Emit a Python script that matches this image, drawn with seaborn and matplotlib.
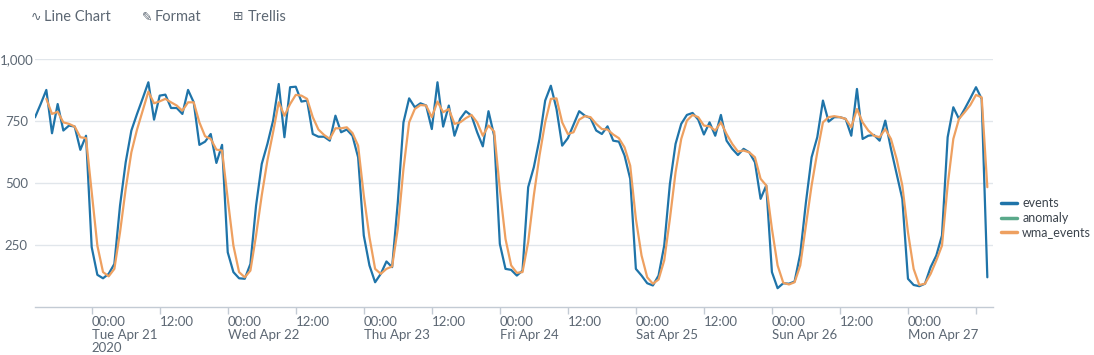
import numpy as np
import pandas as pd
import seaborn as sns
import matplotlib.pyplot as plt
from matplotlib.lines import Line2D

# hourly counts, Mon Apr 20 14:00 -> Mon Apr 27 14:00
events = [764, 818, 875, 700, 818, 711, 731, 727, 633, 690,
          240, 128, 114, 132, 172, 408, 583, 711, 778, 841,
          906, 755, 852, 856, 802, 802, 778, 875, 825, 653,
          666, 697, 580, 653, 219, 139, 114, 112, 172, 408,
          576, 657, 751, 899, 684, 886, 888, 828, 832, 697,
          686, 686, 670, 771, 704, 715, 690, 603, 287, 166,
          98, 132, 182, 159, 421, 744, 841, 805, 821, 812,
          717, 906, 727, 812, 690, 758, 789, 771, 704, 647,
          789, 690, 253, 152, 148, 125, 145, 482, 563, 677,
          832, 892, 798, 650, 680, 735, 789, 771, 761, 711,
          697, 728, 670, 666, 610, 516, 152, 125, 94, 85,
          125, 246, 495, 657, 738, 774, 782, 755, 695, 744,
          690, 774, 670, 637, 612, 637, 623, 583, 435, 489,
          139, 74, 94, 92, 101, 213, 421, 603, 684, 832,
          747, 765, 765, 758, 690, 879, 677, 690, 693, 670,
          751, 637, 536, 435, 112, 87, 82, 92, 159, 206,
          287, 684, 805, 758, 798, 841, 886, 839, 118]

wma_events = [None, None, 839, 778, 787, 744, 738, 727, 684, 680,
              462, 246, 139, 122, 152, 300, 475, 623, 715, 791,
              868, 821, 829, 839, 825, 812, 791, 825, 825, 744,
              688, 677, 634, 630, 435, 246, 139, 118, 145, 287,
              449, 590, 704, 825, 771, 818, 855, 852, 839, 765,
              715, 693, 677, 720, 720, 724, 701, 650, 449, 280,
              152, 132, 152, 162, 314, 556, 744, 798, 814, 812,
              765, 828, 785, 798, 738, 744, 761, 774, 744, 690,
              731, 707, 475, 273, 166, 136, 139, 260, 449, 610,
              744, 839, 841, 744, 697, 704, 755, 769, 765, 738,
              717, 715, 695, 680, 643, 569, 354, 206, 118, 92,
              109, 186, 354, 542, 677, 751, 774, 765, 731, 728,
              711, 744, 697, 657, 626, 630, 623, 603, 516, 489,
              314, 166, 96, 89, 98, 166, 327, 489, 623, 744,
              765, 769, 765, 758, 724, 798, 744, 711, 690, 684,
              717, 677, 596, 489, 300, 152, 87, 92, 132, 186,
              246, 489, 677, 758, 785, 814, 855, 845, 482]

anomaly = []  # no anomalies in this range

series_names = ['events', 'anomaly', 'wma_events']
colors = {'events': '#1f74a9', 'anomaly': '#5aa98a', 'wma_events': '#eea060'}

y_ticks = [250, 500, 750, 1000]
y_labels = ['250', '500', '750', '1,000']

tick_labels = ['00:00\nTue Apr 21\n2020', '12:00', '00:00\nWed Apr 22', '12:00',
               '00:00\nThu Apr 23', '12:00', '00:00\nFri Apr 24', '12:00',
               '00:00\nSat Apr 25', '12:00', '00:00\nSun Apr 26', '12:00',
               '00:00\nMon Apr 27', '']

times = pd.date_range('2020-04-20 14:00', periods=len(events), freq='h')
df = pd.DataFrame({'_time': times, 'events': events,
                   'wma_events': pd.array(wma_events, dtype='Float64')})
long = df.melt(id_vars='_time', var_name='series', value_name='count').dropna()
long['count'] = long['count'].astype(float)

sns.set_theme(style='white')
plt.rcParams['font.family'] = ['Lato', 'DejaVu Sans']

grey = '#5c6773'
fig = plt.figure(figsize=(10.94, 3.55), dpi=100)
ax = fig.add_axes([35 / 1094, 48.5 / 355, 958 / 1094, 247.5 / 355])

sns.lineplot(data=long, x='_time', y='count', hue='series',
             hue_order=['events', 'wma_events'], palette=colors,
             linewidth=1.6, ax=ax, legend=False)

ax.set_xlim(pd.Timestamp('2020-04-20 14:00'), pd.Timestamp('2020-04-27 15:00'))
ax.set_ylim(0, 1000)
ax.set_xlabel('')
ax.set_ylabel('')

ax.set_yticks(y_ticks)
ax.set_yticklabels(y_labels, ha='center')
ax.tick_params(axis='y', length=0, pad=13.5, labelsize=9.5, labelcolor=grey)
ax.grid(axis='y', color='#e1e6eb', linewidth=1)

xt = pd.date_range('2020-04-21 00:00', periods=len(tick_labels), freq='12h')
ax.set_xticks(xt)
ax.set_xticklabels(tick_labels, ha='left', linespacing=1.1)
ax.tick_params(axis='x', length=5, width=1, color='#c3cbd4', pad=2,
               labelsize=9.5, labelcolor=grey, bottom=True)

for side in ['left', 'right', 'top']:
    ax.spines[side].set_visible(False)
ax.spines['bottom'].set_color('#c3cbd4')
ax.spines['bottom'].set_linewidth(1)

handles = [Line2D([], [], color=colors[n], linewidth=2.5) for n in series_names]
fig.legend(handles, series_names, loc='center left',
           bbox_to_anchor=(1001 / 1094, 1 - 218 / 355), frameon=False,
           fontsize=9, handlelength=1.25, handletextpad=0.45,
           labelspacing=0.2, borderpad=0, borderaxespad=0, labelcolor='#3c444d')

# header bar
header = [(31, '\u223f', 44, 'Line Chart'), (142, '\u270e', 155, 'Format'),
          (233, '\u229e', 248, 'Trellis')]
for ix, icon, tx, label in header:
    fig.text(ix / 1094, 1 - 17 / 355, icon, fontsize=9, color=grey, va='center',
             family=['DejaVu Sans'])
    fig.text(tx / 1094, 1 - 17 / 355, label, fontsize=10.5, color=grey, va='center')

fig.savefig('out.png', dpi=100)
